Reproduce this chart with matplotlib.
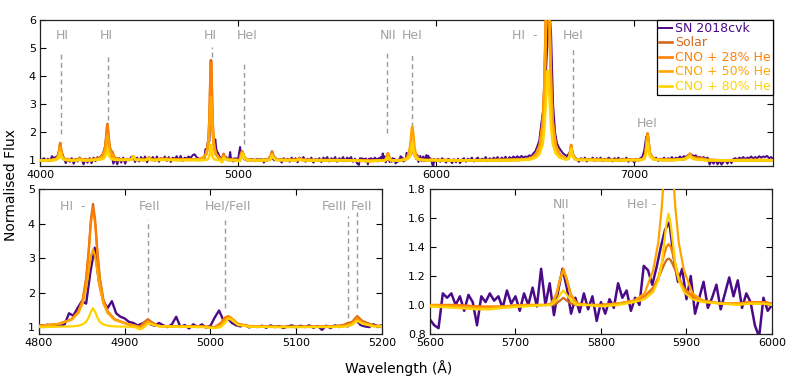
import numpy as np
import matplotlib
matplotlib.use("Agg")
import matplotlib.pyplot as plt

sn_wave_a = np.arange(4000, 4800, 10)
sn_flux_a = [1.05, 1.02, 1.08, 1.00, 1.06, 0.98, 1.15, 1.08, 1.12, 1.18,
             1.45, 1.30, 1.08, 0.90, 1.06, 0.95, 1.08, 0.88, 1.05, 0.96,
             1.10, 1.02, 0.86, 1.06, 0.92, 1.08, 0.90, 1.10, 0.97, 1.12,
             1.05, 1.18, 1.25, 1.55, 1.90, 1.50, 1.25, 0.88, 1.05, 0.86,
             1.08, 0.92, 1.10, 0.88, 1.06, 1.00, 1.12, 1.15, 0.94, 1.10,
             0.96, 1.12, 1.00, 1.14, 0.93, 1.10, 1.04, 1.12, 0.98, 1.14,
             0.95, 1.08, 1.02, 1.14, 0.98, 1.12, 0.94, 1.10, 1.05, 1.15,
             1.00, 1.16, 0.98, 1.10, 1.06, 1.14, 1.08, 1.18, 1.22, 1.12]

sn_wave_b = np.arange(4800, 5201, 5)
sn_flux_b = [1.06, 1.04, 1.07, 1.02, 1.05, 1.03, 1.08, 1.40, 1.33, 1.55,
             1.75, 1.68, 2.60, 3.30, 2.30, 1.75, 1.55, 1.75, 1.40, 1.30,
             1.25, 1.15, 1.12, 1.05, 1.10, 1.15, 1.08, 1.04, 1.12, 1.05,
             1.00, 1.08, 1.30, 1.00, 1.06, 0.96, 1.08, 1.00, 1.08, 0.98,
             1.04, 1.28, 1.48, 1.20, 1.25, 1.12, 1.05, 1.02, 1.06, 0.99,
             1.03, 1.00, 1.04, 0.98, 1.05, 1.00, 1.03, 0.97, 1.02, 1.05,
             0.99, 1.04, 1.00, 1.05, 0.98, 1.03, 0.92, 1.04, 0.97, 1.05,
             1.00, 1.06, 1.02, 1.10, 1.20, 1.06, 1.02, 1.00, 1.08, 1.02,
             1.05]

sn_wave_c = np.arange(5210, 5600, 10)
sn_flux_c = [1.05, 0.92, 1.08, 1.00, 1.06, 0.95, 1.10, 1.00, 1.08, 0.93,
             1.10, 1.02, 1.12, 0.95, 1.06, 1.00, 1.10, 0.92, 1.05, 1.00,
             1.08, 0.94, 1.10, 1.04, 1.12, 0.96, 1.08, 1.02, 1.12, 0.95,
             1.08, 1.02, 1.12, 0.97, 1.10, 1.04, 1.12, 0.95, 1.06]

sn_wave_d = np.arange(5600, 6001, 5)
sn_flux_d = [0.90, 0.86, 0.84, 1.08, 1.05, 1.08, 1.00, 1.06, 0.96, 1.07,
             1.02, 0.86, 1.06, 1.02, 1.08, 1.03, 1.06, 0.98, 1.10, 1.01,
             1.06, 0.96, 1.08, 1.00, 1.12, 0.99, 1.25, 1.00, 1.15, 0.93,
             1.10, 1.25, 1.12, 0.94, 1.05, 0.95, 1.08, 0.97, 1.06, 0.89,
             1.02, 0.94, 1.04, 0.98, 1.15, 1.05, 1.10, 0.96, 1.05, 1.00,
             1.27, 1.24, 1.14, 1.26, 1.40, 1.52, 1.57, 1.33, 1.16, 1.25,
             1.04, 1.20, 0.94, 1.05, 1.16, 0.98, 1.05, 1.14, 0.97, 1.08,
             1.19, 1.06, 1.17, 0.98, 1.08, 1.02, 0.86, 0.78, 1.05, 0.96,
             1.00]

sn_wave_e = np.arange(6010, 7701, 10)
sn_flux_e = [1.05, 0.95, 1.08, 1.00, 0.92, 1.06, 1.02, 0.90, 1.04, 0.93,
             1.06, 0.90, 1.02, 1.08, 0.95, 1.06, 1.00, 1.10, 0.96, 1.04,
             1.10, 0.98, 1.06, 1.02, 1.12, 0.97, 1.08, 1.00, 1.10, 1.04,
             1.12, 0.98, 1.10, 1.04, 1.13, 1.00, 1.12, 1.06, 1.14, 1.08,
             1.15, 1.08, 1.16, 1.10, 1.14, 1.12, 1.18, 1.15, 1.25, 1.32,
             1.50, 1.70, 2.30, 2.80, 3.60, 5.00, 6.50, 5.50, 3.00, 2.00,
             1.60, 1.45, 1.35, 1.25, 1.20, 1.15, 1.25, 1.35, 1.22, 1.10,
             1.05, 0.95, 1.08, 1.00, 1.10, 0.96, 1.06, 1.02, 1.10, 0.98,
             1.08, 1.02, 1.10, 0.97, 1.06, 1.00, 1.10, 1.04, 0.96, 1.08,
             1.02, 1.10, 0.98, 1.06, 1.00, 1.10, 0.95, 1.05, 1.02, 0.92,
             1.06, 1.00, 1.08, 1.12, 1.35, 1.85, 1.60, 1.20, 1.08, 1.04,
             1.10, 0.98, 1.06, 1.02, 1.10, 1.00, 1.08, 1.04, 1.12, 1.02,
             1.10, 1.06, 1.14, 1.08, 1.15, 1.12, 1.18, 1.22, 1.20, 1.15,
             1.18, 1.10, 1.12, 1.08, 1.12, 1.05, 1.10, 0.85, 1.00, 0.88,
             1.02, 0.86, 0.98, 0.85, 0.95, 1.00, 0.88, 1.02, 0.90, 1.05,
             1.08, 1.02, 1.10, 1.06, 1.12, 1.04, 1.10, 1.08, 1.14, 1.06,
             1.12, 1.08, 1.15, 1.10, 1.14, 1.12, 1.16, 1.08, 1.12, 1.06]

sn_wave = np.concatenate([sn_wave_a, sn_wave_b, sn_wave_c, sn_wave_d, sn_wave_e])
sn_flux = np.concatenate([sn_flux_a, sn_flux_b, sn_flux_c, sn_flux_d, sn_flux_e])

# ---- model spectra on a shared set of nodes ----
model_wave = [
    4000, 4060,
    4082, 4094, 4099, 4102, 4105, 4110, 4122,
    4160, 4190, 4200, 4210, 4250, 4300,
    4318, 4330, 4336, 4340, 4344, 4350, 4358, 4364, 4375,
    4400, 4460, 4471, 4482, 4530, 4550, 4565, 4620, 4700, 4780,
    4803, 4823, 4838, 4846, 4851, 4855, 4858, 4860.5, 4863, 4865.5, 4868, 4871, 4875, 4880, 4888, 4903,
    4912, 4918, 4923, 4927, 4931, 4940,
    4960, 4990, 5005, 5012, 5017, 5021, 5025, 5032, 5045,
    5080, 5140, 5155, 5160, 5165, 5171, 5177, 5190, 5200,
    5230, 5295, 5310, 5325, 5400, 5500, 5560,
    5600, 5630, 5655, 5670, 5685, 5710, 5735,
    5742, 5748, 5752, 5756, 5760, 5765, 5772, 5785,
    5800, 5820, 5839, 5851, 5861, 5867, 5871, 5874, 5876.5, 5879, 5881.5, 5884, 5887, 5891, 5897, 5907, 5919, 5940, 5960, 5975, 5990, 6000,
    6050, 6150, 6300, 6420,
    6473, 6503, 6523, 6538, 6546, 6553, 6557, 6560, 6563, 6566, 6569, 6573, 6580, 6588, 6603, 6623, 6653,
    6668, 6674, 6678, 6681, 6684, 6690, 6700, 6720,
    6800, 6900, 6980,
    7030, 7050, 7058, 7063, 7067, 7071, 7078, 7095, 7130,
    7200, 7255, 7272, 7281, 7290, 7310, 7340, 7370, 7450, 7550, 7650, 7700,
]

solar_flux = [
    1.00, 1.01,
    1.05, 1.20, 1.45, 1.62, 1.45, 1.20, 1.05,
    1.01, 1.02, 1.08, 1.02, 1.02, 1.08,
    1.20, 1.50, 2.00, 2.30, 2.00, 1.55, 1.30, 1.32, 1.10,
    1.04, 1.03, 1.12, 1.03, 1.02, 1.10, 1.02, 1.06, 1.03, 1.04,
    1.04, 1.09, 1.23, 1.46, 1.81, 2.42, 3.24, 4.11, 4.57, 4.11, 3.24, 2.42, 1.81, 1.46, 1.23, 1.09,
    1.04, 1.02, 1.15, 1.23, 1.15, 1.03,
    1.02, 1.02, 1.00, 1.12, 1.27, 1.30, 1.22, 1.08, 1.02,
    1.01, 1.02, 1.06, 1.12, 1.15, 1.32, 1.18, 1.05, 1.03,
    1.02, 1.02, 1.07, 1.02, 1.01, 1.01, 1.00,
    1.00, 1.00, 0.99, 0.98, 0.99, 1.00, 1.00,
    1.00, 1.01, 1.03, 1.05, 1.03, 1.01, 1.00, 1.00,
    1.00, 1.01, 1.03, 1.06, 1.12, 1.18, 1.24, 1.28, 1.31, 1.32, 1.31, 1.28, 1.24, 1.18, 1.12, 1.06, 1.03, 1.01, 1.01, 1.02, 1.02, 1.01,
    1.01, 1.00, 1.01, 1.02,
    1.06, 1.20, 1.55, 2.40, 3.70, 5.90, 8.00, 11.0, 14.0, 11.0, 8.00, 5.90, 3.70, 2.40, 1.55, 1.20, 1.06,
    1.08, 1.20, 1.38, 1.50, 1.38, 1.18, 1.06, 1.03,
    1.02, 1.01, 1.02,
    1.02, 1.08, 1.30, 1.75, 1.93, 1.70, 1.25, 1.06, 1.02,
    1.02, 1.05, 1.15, 1.22, 1.12, 1.10, 1.09, 1.02, 1.00, 1.01, 1.01, 1.00,
]

cno28_flux = [
    1.00, 1.01,
    1.05, 1.20, 1.43, 1.60, 1.43, 1.20, 1.05,
    1.01, 1.02, 1.07, 1.02, 1.02, 1.07,
    1.20, 1.48, 1.95, 2.25, 1.95, 1.50, 1.28, 1.28, 1.10,
    1.04, 1.03, 1.14, 1.03, 1.02, 1.09, 1.02, 1.05, 1.03, 1.04,
    1.04, 1.09, 1.22, 1.44, 1.78, 2.37, 3.17, 4.00, 4.45, 4.00, 3.17, 2.37, 1.78, 1.44, 1.22, 1.09,
    1.04, 1.00, 1.10, 1.18, 1.12, 1.03,
    1.02, 1.02, 0.99, 1.10, 1.28, 1.32, 1.25, 1.10, 1.03,
    1.01, 1.01, 1.04, 1.08, 1.12, 1.28, 1.15, 1.04, 1.02,
    1.02, 1.02, 1.06, 1.02, 1.01, 1.01, 1.00,
    1.00, 1.00, 0.99, 0.99, 0.99, 1.00, 1.00,
    1.01, 1.08, 1.18, 1.25, 1.18, 1.07, 1.01, 1.00,
    1.00, 1.01, 1.03, 1.06, 1.11, 1.19, 1.28, 1.35, 1.40, 1.42, 1.40, 1.35, 1.28, 1.19, 1.11, 1.06, 1.03, 1.01, 1.01, 1.02, 1.02, 1.01,
    1.01, 1.00, 1.01, 1.02,
    1.06, 1.20, 1.55, 2.35, 3.60, 5.80, 7.90, 10.8, 13.8, 10.8, 7.90, 5.80, 3.60, 2.35, 1.55, 1.20, 1.06,
    1.08, 1.22, 1.42, 1.55, 1.42, 1.20, 1.06, 1.03,
    1.02, 1.01, 1.02,
    1.02, 1.08, 1.30, 1.78, 1.96, 1.72, 1.27, 1.06, 1.02,
    1.02, 1.05, 1.16, 1.24, 1.12, 1.06, 1.04, 1.01, 1.00, 1.01, 1.01, 1.00,
]

cno50_flux = [
    1.00, 1.01,
    1.04, 1.15, 1.33, 1.45, 1.33, 1.15, 1.04,
    1.00, 1.01, 1.05, 1.01, 1.01, 1.05,
    1.15, 1.35, 1.70, 1.90, 1.70, 1.38, 1.20, 1.20, 1.06,
    1.03, 1.03, 1.15, 1.03, 1.02, 1.08, 1.02, 1.04, 1.02, 1.04,
    1.04, 1.09, 1.21, 1.41, 1.69, 2.13, 2.62, 3.05, 3.25, 3.05, 2.62, 2.13, 1.69, 1.41, 1.21, 1.09,
    1.04, 0.97, 1.06, 1.15, 1.10, 1.03,
    1.02, 1.01, 0.98, 1.05, 1.20, 1.28, 1.22, 1.08, 1.02,
    1.00, 1.01, 1.02, 1.05, 1.10, 1.22, 1.12, 1.03, 1.02,
    1.01, 1.01, 1.05, 1.01, 1.00, 1.00, 1.00,
    1.00, 0.99, 0.98, 0.98, 0.99, 1.00, 1.00,
    1.01, 1.07, 1.17, 1.24, 1.17, 1.06, 1.01, 1.00,
    1.00, 1.01, 1.03, 1.08, 1.24, 1.43, 1.67, 1.92, 2.11, 2.20, 2.11, 1.92, 1.67, 1.43, 1.24, 1.08, 1.03, 1.01, 1.01, 1.01, 1.01, 1.00,
    1.00, 1.00, 1.01, 1.02,
    1.05, 1.18, 1.50, 2.20, 3.40, 5.40, 7.20, 9.50, 12.0, 9.50, 7.20, 5.40, 3.40, 2.20, 1.50, 1.18, 1.05,
    1.07, 1.20, 1.37, 1.48, 1.36, 1.17, 1.05, 1.02,
    1.02, 1.01, 1.02,
    1.02, 1.07, 1.28, 1.70, 1.88, 1.65, 1.24, 1.05, 1.02,
    1.02, 1.05, 1.14, 1.22, 1.10, 1.05, 1.03, 1.01, 1.00, 1.01, 1.01, 1.00,
]

cno80_flux = [
    1.00, 1.00,
    1.02, 1.08, 1.20, 1.30, 1.20, 1.08, 1.02,
    1.00, 1.00, 1.03, 1.00, 1.00, 1.03,
    1.05, 1.15, 1.30, 1.40, 1.30, 1.15, 1.07, 1.05, 1.02,
    1.01, 1.02, 1.14, 1.02, 1.00, 1.05, 1.00, 1.02, 1.00, 1.01,
    1.00, 1.01, 1.02, 1.04, 1.08, 1.15, 1.28, 1.44, 1.55, 1.44, 1.28, 1.15, 1.08, 1.04, 1.02, 1.01,
    1.00, 0.93, 1.00, 1.10, 1.08, 1.02,
    1.01, 1.00, 0.97, 1.00, 1.12, 1.25, 1.20, 1.06, 1.01,
    1.00, 1.00, 1.01, 1.03, 1.06, 1.18, 1.10, 1.02, 1.01,
    1.00, 1.00, 1.03, 1.00, 1.00, 1.00, 1.00,
    0.99, 0.98, 0.97, 0.97, 0.98, 0.99, 1.00,
    1.00, 1.03, 1.07, 1.10, 1.07, 1.03, 1.00, 1.00,
    0.99, 1.00, 1.02, 1.04, 1.09, 1.17, 1.28, 1.43, 1.56, 1.63, 1.56, 1.43, 1.28, 1.17, 1.09, 1.04, 1.02, 1.01, 1.00, 1.01, 1.01, 1.00,
    1.00, 1.00, 1.00, 1.01,
    1.03, 1.10, 1.25, 1.60, 2.20, 3.00, 3.60, 4.00, 4.20, 4.00, 3.60, 3.00, 2.20, 1.60, 1.25, 1.10, 1.03,
    1.05, 1.15, 1.30, 1.40, 1.30, 1.13, 1.04, 1.02,
    1.01, 1.00, 1.01,
    1.01, 1.05, 1.20, 1.50, 1.65, 1.45, 1.15, 1.04, 1.01,
    1.01, 1.04, 1.10, 1.16, 1.08, 1.03, 1.02, 1.00, 1.00, 1.00, 1.00, 1.00,
]

series_labels = ["SN 2018cvk", "Solar", "CNO + 28% He", "CNO + 50% He", "CNO + 80% He"]
series_colors = ["#4b0a87", "#d2691e", "#ff8000", "#ffa500", "#ffd200"]

# line identifications: (label, line x, label x, label y, dash bottom, dash top)
top_ids = [
    ("HI", 4105, 4110, 5.45, 1.95, 4.90),
    ("HI", 4343, 4334, 5.45, 2.45, 4.72),
    ("HI", 4866, 4860, 5.45, 4.70, 5.05),
    ("HeI", 5032, 5045, 5.45, 1.60, 4.55),
    ("NII", 5753, 5755, 5.45, 1.97, 4.87),
    ("HeI", 5877, 5877, 5.45, 2.20, 4.87),
    ("HI  -", None, 6445, 5.45, None, None),
    ("HeI", 6690, 6690, 5.45, 1.78, 5.05),
    ("HeI", 7067, 7067, 2.30, None, None),
]
left_ids = [
    ("HI  -", None, 4839, 4.5, None, None),
    ("FeII", 4927, 4929, 4.5, 1.43, 4.10),
    ("HeI/FeII", 5017, 5021, 4.5, 1.55, 4.10),
    ("FeIII", 5160, 5144, 4.5, 1.26, 4.22),
    ("FeII", 5171, 5176, 4.5, 1.55, 4.33),
]
right_ids = [
    ("NII", 5756, 5753, 1.69, 1.31, 1.63),
    ("HeI -", None, 5847, 1.69, None, None),
]

plt.rcParams["font.family"] = "DejaVu Sans"
fig = plt.figure(figsize=(7.97, 3.85), dpi=100)
ax_top = fig.add_axes([0.0502, 0.5688, 0.9197, 0.3792])
ax_left = fig.add_axes([0.0489, 0.1325, 0.4304, 0.3765])
ax_right = fig.add_axes([0.5395, 0.1325, 0.4291, 0.3765])

all_flux = [sn_flux, solar_flux, cno28_flux, cno50_flux, cno80_flux]
all_wave = [sn_wave, model_wave, model_wave, model_wave, model_wave]


def draw_panel(ax, ids, xlim, ylim, xticks, yticks, sn_lw, model_lw):
    for label, lx, tx, ty, y0, y1 in ids:
        if lx is not None:
            ax.plot([lx, lx], [y0, y1], color="#999999", lw=1.0,
                    ls=(0, (3.5, 2.5)), zorder=1)
        ax.text(tx, ty, label, color="#a0a0a0", fontsize=9,
                ha="center", va="center", zorder=1)
    for i in range(len(series_labels)):
        ax.plot(all_wave[i], all_flux[i], color=series_colors[i],
                lw=model_lw if i else sn_lw, label=series_labels[i],
                zorder=2 + i)
    ax.set_xlim(*xlim)
    ax.set_ylim(*ylim)
    ax.set_xticks(xticks)
    ax.set_yticks(yticks)
    ax.tick_params(direction="in", top=True, right=True, length=4,
                   width=0.8, labelsize=8, pad=3)
    for sp in ax.spines.values():
        sp.set_linewidth(0.9)
        sp.set_color("#222222")


draw_panel(ax_top, top_ids, (4000, 7700), (0.8, 6),
           [4000, 5000, 6000, 7000], [1, 2, 3, 4, 5, 6], 1.4, 1.9)
draw_panel(ax_left, left_ids, (4800, 5200), (0.8, 5),
           [4800, 4900, 5000, 5100, 5200], [1, 2, 3, 4, 5], 1.7, 1.6)
draw_panel(ax_right, right_ids, (5600, 6000), (0.8, 1.8),
           [5600, 5700, 5800, 5900, 6000], [0.8, 1.0, 1.2, 1.4, 1.6, 1.8], 1.8, 1.6)
ax_right.set_yticklabels(["0.8", "1.0", "1.2", "1.4", "1.6", "1.8"])

leg = ax_top.legend(loc="upper right", fontsize=9, frameon=True, fancybox=False,
                    edgecolor="black", framealpha=1, borderaxespad=0,
                    borderpad=0.15, labelspacing=0.12, handlelength=1.1,
                    handletextpad=0.25)
leg.get_frame().set_linewidth(0.9)
for txt, col in zip(leg.get_texts(), series_colors):
    txt.set_color(col)

fig.text(0.0138, 0.52, "Normalised Flux", rotation=90, ha="center",
         va="center", fontsize=10)
fig.text(0.5, 0.044, "Wavelength (Å)", ha="center", va="center", fontsize=10)

fig.savefig("out.png", dpi=100)
